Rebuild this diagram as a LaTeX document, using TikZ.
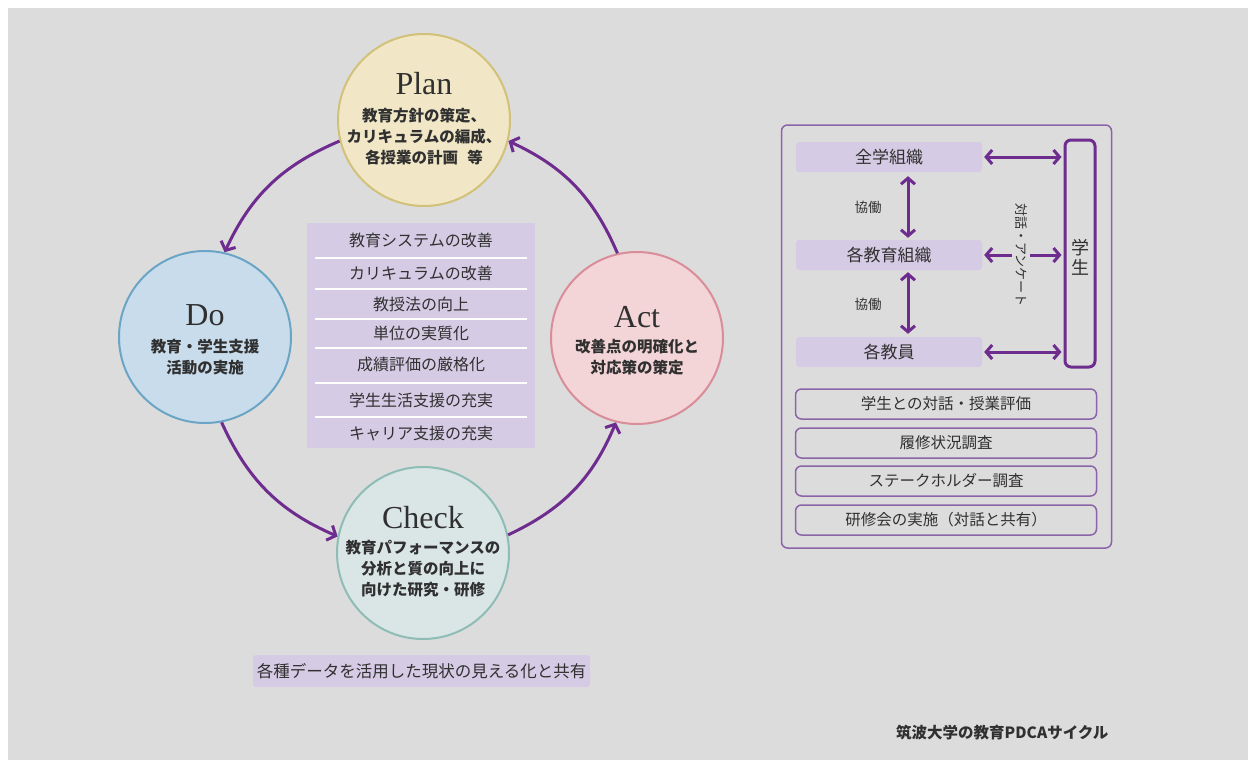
\documentclass[tikz,border=0pt]{standalone}
\usepackage{fontspec}
\newfontfamily\jp{Noto Sans CJK JP}
\newfontfamily\serif{Liberation Serif}
\usetikzlibrary{arrows.meta,positioning}
\definecolor{bg}{HTML}{DCDCDC}
\definecolor{lav}{HTML}{D6CBE4}
\definecolor{arr}{HTML}{6E2C8F}
\definecolor{frame}{HTML}{8C64A8}
\definecolor{planfill}{HTML}{F1E7C6}
\definecolor{planline}{HTML}{D2C178}
\definecolor{dofill}{HTML}{C8DCEB}
\definecolor{doline}{HTML}{6BA5C6}
\definecolor{actfill}{HTML}{F3D4D7}
\definecolor{actline}{HTML}{D88D99}
\definecolor{chkfill}{HTML}{DAE5E6}
\definecolor{chkline}{HTML}{8DBDB5}
\definecolor{ink}{HTML}{303030}
\tikzset{
  phase/.style={circle,minimum size=172pt,line width=2pt,inner sep=0pt},
  title/.style={anchor=base,text=ink,font=\serif\fontsize{32}{32}\selectfont},
  desc/.style={align=center,text=ink,font=\jp\bfseries\fontsize{15.5}{21}\selectfont},
  cycle/.style={draw=arr,line width=3pt,-{Straight Barb[length=7pt,width=16pt,line width=3pt]}},
  item/.style={text=ink,font=\jp\fontsize{16}{16}\selectfont},
  unit/.style={fill=lav,rounded corners=3pt,minimum width=186pt,minimum height=30pt,text=ink,font=\jp\fontsize{17}{17}\selectfont},
  survey/.style={draw=frame,line width=1.5pt,rounded corners=6pt,minimum width=301pt,minimum height=30pt,text=ink,font=\jp\fontsize{15.5}{15.5}\selectfont},
  link/.style={draw=arr,line width=3pt,{Straight Barb[length=6pt,width=14pt,line width=3pt]}-{Straight Barb[length=6pt,width=14pt,line width=3pt]}},
  oneway/.style={draw=arr,line width=3pt,-{Straight Barb[length=6pt,width=14pt,line width=3pt]}}
}
\begin{document}
\begin{tikzpicture}[x=1pt,y=-1pt]
\fill[white] (0,0) rectangle (1248,760);
\fill[bg] (8,8) rectangle (1248,760);
\useasboundingbox (0,0) rectangle (1248,760);

% PDCA circles
\node[phase,fill=planfill,draw=planline] (plan) at (424,120) {};
\node[phase,fill=dofill,draw=doline] (do) at (205,337) {};
\node[phase,fill=actfill,draw=actline] (act) at (637,338) {};
\node[phase,fill=chkfill,draw=chkline] (check) at (423,553) {};

\node[title] (plant) at (424,95) {Plan};
\node[desc] (pland) at (424,137) {教育方針の策定、\\カリキュラムの編成、\\各授業の計画\hspace{0.6em}等};
\node[title] (dot) at (205,325) {Do};
\node[desc] (dod) at (205,357.5) {教育・学生支援\\活動の実施};
\node[title] (actt) at (637,327) {Act};
\node[desc] (actd) at (637,357.5) {改善点の明確化と\\対応策の策定};
\node[title] (checkt) at (423,528) {Check};
\node[desc] (checkd) at (423,569) {教育パフォーマンスの\\分析と質の向上に\\向けた研究・研修};

\draw[cycle] (plan.194) to[bend right=21] (do.77);
\draw[cycle] (do.281) to[bend right=21] (check.169);
\draw[cycle] (check.12) to[bend right=21] (act.256);
\draw[cycle] (act.103) to[bend right=21] (plan.346);

% improvement list
\node[fill=lav,minimum width=228pt,minimum height=225pt,inner sep=0pt] (list) at (421,335.5) {};
\foreach \y in {258,289,319,348,383,417}
  \draw[white,line width=1.2pt] (315,\y) -- (527,\y);
\node[item] (l1) at (421,240) {教育システムの改善};
\node[item] (l2) at (421,273) {カリキュラムの改善};
\node[item] (l3) at (421,304) {教授法の向上};
\node[item] (l4) at (421,333) {単位の実質化};
\node[item] (l5) at (421,364) {成績評価の厳格化};
\node[item] (l6) at (421,400) {学生生活支援の充実};
\node[item] (l7) at (421,433) {キャリア支援の充実};

\node[fill=lav,rounded corners=3pt,minimum width=337pt,minimum height=32pt,text=ink,font=\jp\fontsize{16.5}{16.5}\selectfont] (data) at (421.5,671) {各種データを活用した現状の見える化と共有};

% organisation panel
\node[draw=frame,line width=1.5pt,rounded corners=6pt,minimum width=330pt,minimum height=423pt] (panel) at (946.5,336.5) {};
\node[unit] (zengaku) at (889,157) {全学組織};
\node[unit] (soshiki) at (889,255) {各教育組織};
\node[unit] (kyoin) at (889,352) {各教員};
\node[draw=arr,line width=3pt,rounded corners=6pt,minimum width=30pt,minimum height=227pt,inner sep=0pt] (gakusei) at (1080,253.5) {};
\node[align=center,text=ink,font=\jp\fontsize{18}{20}\selectfont] (gakuseit) at (1080,257) {学\\生};

\draw[link] ([xshift=2pt]zengaku.east) -- ([xshift=-2pt]zengaku.east -| gakusei.west);
\draw[link] ([xshift=2pt]kyoin.east) -- ([xshift=-2pt]kyoin.east -| gakusei.west);
\node[rotate=-90,text=ink,inner sep=3pt,font=\jp\fontsize{13}{13}\selectfont] (taiwa) at (1021,255) {対話・アンケート};
\draw[oneway] (taiwa) -- ([xshift=2pt]soshiki.east);
\draw[oneway] (taiwa) -- ([xshift=-2pt]soshiki.east -| gakusei.west);

\draw[link] ([xshift=19pt,yshift=-4pt]zengaku.south) -- ([xshift=19pt,yshift=2pt]soshiki.north);
\draw[link] ([xshift=19pt,yshift=-2pt]soshiki.south) -- ([xshift=19pt,yshift=3pt]kyoin.north);
\node[text=ink,font=\jp\fontsize{13.5}{13.5}\selectfont] (kyodo1) at (868,207) {協働};
\node[text=ink,font=\jp\fontsize{13.5}{13.5}\selectfont] (kyodo2) at (868,304) {協働};

\node[survey] (s1) at (946,404) {学生との対話・授業評価};
\node[survey] (s2) at (946,443) {履修状況調査};
\node[survey] (s3) at (946,481) {ステークホルダー調査};
\node[survey] (s4) at (946,520) {研修会の実施（対話と共有）};

\node[anchor=east,text=ink,font=\jp\bfseries\fontsize{15.5}{15.5}\selectfont] (caption) at (1112,733) {筑波大学の教育PDCAサイクル};
\end{tikzpicture}
\end{document}
